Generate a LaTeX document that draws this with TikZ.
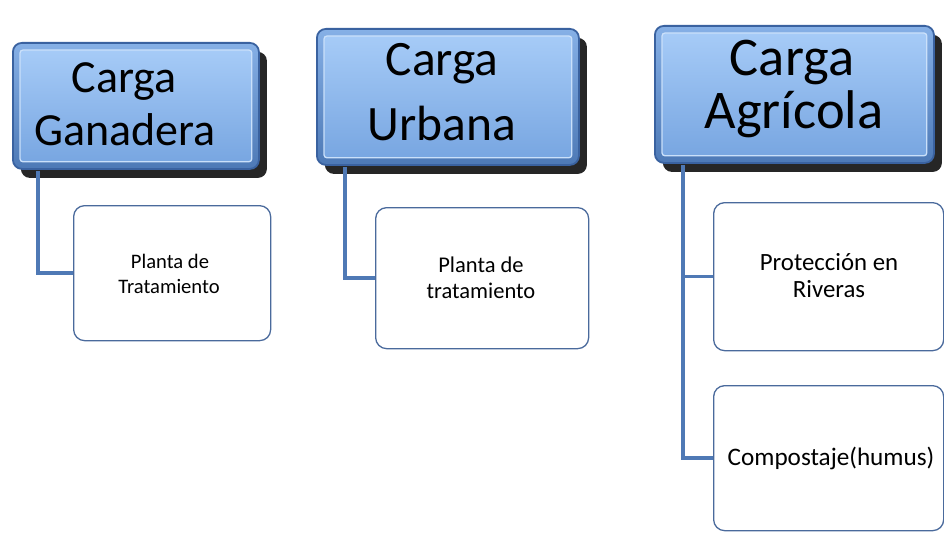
\documentclass[tikz,border=0pt]{standalone}
\usepackage{fontspec}
\setmainfont{Carlito}
\usetikzlibrary{calc,shadows}
\definecolor{frtop}{HTML}{86B0E6}
\definecolor{frbot}{HTML}{4D79B6}
\definecolor{hdtop}{HTML}{A6CBF7}
\definecolor{hdbot}{HTML}{78A6E1}
\definecolor{hdedge}{HTML}{3A62A0}
\definecolor{lnk}{HTML}{4F79B5}
\definecolor{chedge}{HTML}{4A6A9C}
\begin{document}
\begin{tikzpicture}[x=1pt,y=-1pt,
  header/.style={draw=hdedge, line width=1.8pt, rounded corners=9pt,
    top color=frtop, bottom color=frbot,
    drop shadow={shadow xshift=8pt, shadow yshift=-9pt, fill=black, opacity=0.85},
    anchor=north west, inner sep=0pt},
  bevel/.style={draw=white!40!hdtop, line width=1.3pt, rounded corners=3pt,
    top color=hdtop, bottom color=hdbot},
  htext/.style={anchor=base, inner sep=0pt, text=black},
  child/.style={draw=chedge, line width=1.3pt, rounded corners=11pt, fill=white,
    anchor=north west, inner sep=0pt},
  ctext/.style={anchor=base, inner sep=0pt, text=black},
  link/.style={draw=lnk, line width=3.6pt, line join=miter}]
\useasboundingbox (0,0) rectangle (944,535);

% headers
\node[header, minimum width=246pt, minimum height=126pt] (g) at (12,42) {};
\node[header, minimum width=262pt, minimum height=136pt] (u) at (316,28) {};
\node[header, minimum width=279pt, minimum height=137pt] (a) at (654,25) {};
\foreach \b in {g,u,a}{
  \draw[bevel] ($(\b.north west)+(8,8)$) rectangle ($(\b.south east)+(-8,-8)$);
}
\node[htext, font=\fontsize{46}{53}\selectfont] (gt1) at (124,92) {Carga};
\node[htext, font=\fontsize{46}{53}\selectfont] (gt2) at (125,145) {Ganadera};
\node[htext, font=\fontsize{49.5}{60}\selectfont] (ut1) at (442,75) {Carga};
\node[htext, font=\fontsize{49.5}{60}\selectfont] (ut2) at (442,140) {Urbana};
\node[htext, font=\fontsize{54.5}{60}\selectfont] (at1) at (792,75) {Carga};
\node[htext, font=\fontsize{54.5}{60}\selectfont] (at2) at (794,128) {Agrícola};

% children
\node[child, minimum width=197pt, minimum height=135pt] (gc) at (73,205) {};
\node[child, minimum width=213pt, minimum height=141pt] (uc) at (375,207) {};
\node[child, minimum width=230pt, minimum height=148pt] (ac1) at (713,202) {};
\node[child, minimum width=230pt, minimum height=145pt] (ac2) at (713,385) {};

\node[ctext, font=\fontsize{20.6}{25}\selectfont] (gct1) at (170,268) {Planta de};
\node[ctext, font=\fontsize{20.6}{25}\selectfont] (gct2) at (169,293) {Tratamiento};
\node[ctext, font=\fontsize{22.5}{26}\selectfont] (uct1) at (481,272) {Planta de};
\node[ctext, font=\fontsize{22.5}{26}\selectfont] (uct2) at (481,298) {tratamiento};
\node[ctext, font=\fontsize{24.8}{27}\selectfont] (act1) at (829,270) {Protección en};
\node[ctext, font=\fontsize{24.8}{27}\selectfont] (act2) at (829,297) {Riveras};
\node[ctext, font=\fontsize{25.2}{27}\selectfont] (act3) at (831,465) {Compostaje(humus)};

% connectors
\draw[link] ($(g.south west)+(26,1)$) |- (gc.west);
\draw[link] ($(u.south west)+(29,1)$) |- (uc.west);
\draw[link] ($(a.south west)+(29,1)$) |- (ac2.west);
\draw[link] ($(a.south west)+(29,1)$) |- (ac1.west);
\end{tikzpicture}
\end{document}
